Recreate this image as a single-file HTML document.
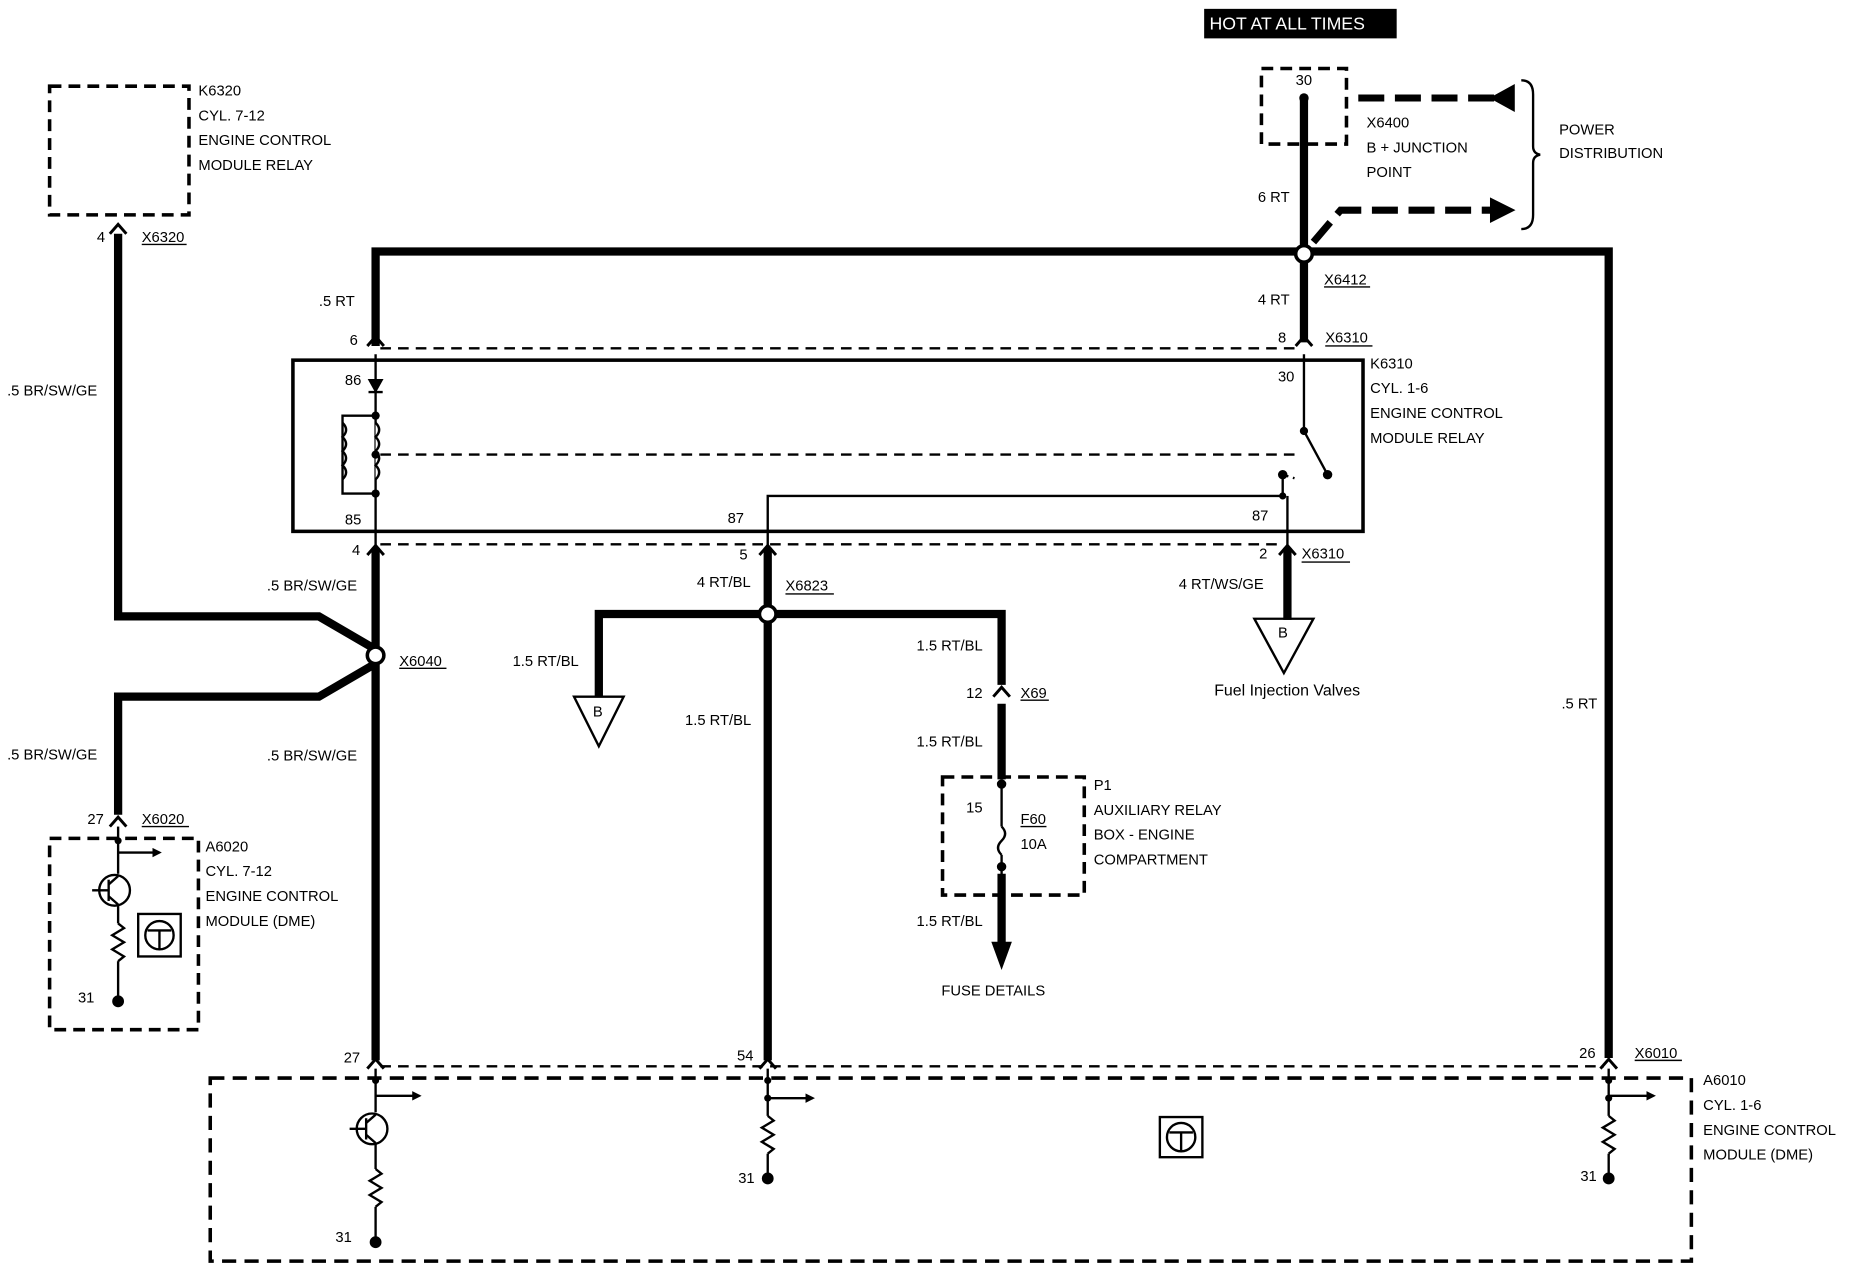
<!DOCTYPE html>
<html><head><meta charset="utf-8"><style>
html,body{margin:0;padding:0;background:#fff;}
svg{display:block}
text{font-family:"Liberation Sans",sans-serif;font-size:12.5px;fill:#000;}
</style></head><body>
<svg width="1852" height="1280" viewBox="0 0 1568 1084" preserveAspectRatio="none" xmlns="http://www.w3.org/2000/svg">
<defs>
<marker id="ah" markerWidth="8" markerHeight="8" refX="6" refY="4" orient="auto" markerUnits="userSpaceOnUse"><path d="M0,0 L8,4 L0,8 z"/></marker>
</defs>
<g fill="none" stroke="#000">
<rect x="1020" y="8" width="162" height="24" fill="#000"/>
<rect x="42" y="73" width="118" height="109" stroke-width="3" stroke-dasharray="10,6"/>
<rect x="1068" y="58" width="72" height="64" stroke-width="3" stroke-dasharray="10,6"/>
<g stroke-width="7">
<polyline points="100,198 100,522 270,522 318,550"/>
<polyline points="318,293 318,213 1362,213 1362,896"/>
<line x1="1104" y1="83" x2="1104" y2="290"/>
<line x1="318" y1="464" x2="318" y2="898"/>
<polyline points="318,562 270,590 100,590 100,690"/>
<line x1="650" y1="464" x2="650" y2="898"/>
<polyline points="507,590 507,520 848,520 848,580"/>
<line x1="848" y1="596" x2="848" y2="660"/>
<line x1="848" y1="740" x2="848" y2="800"/>
<line x1="1090" y1="464" x2="1090" y2="525"/>
</g>
<path d="M840,798 L856,798 L848,820 z" fill="#000"/>
<g stroke-width="6" stroke-dasharray="22,9">
<line x1="1150" y1="83" x2="1268" y2="83"/>
<polyline points="1112,205 1135,178 1262,178"/>
</g>
<path d="M1282,72 L1282,94 L1262,83 z" fill="#000"/>
<path d="M1262,168 L1262,188 L1282,178 z" fill="#000"/>
<path d="M1288,68 Q1298,68 1298,80 L1298,124 Q1298,130 1304,131 Q1298,132 1298,138 L1298,182 Q1298,194 1288,194" stroke-width="2"/>
<rect x="248" y="305" width="906" height="145" stroke-width="3"/>
<g stroke-width="2" stroke-dasharray="9,6">
<line x1="322" y1="295" x2="1100" y2="295"/>
<line x1="322" y1="461" x2="1086" y2="461"/>
<line x1="322" y1="385" x2="1100" y2="385"/>
<line x1="322" y1="903" x2="1358" y2="903"/>
</g>
<g stroke-width="2">
<line x1="318" y1="300" x2="318" y2="464"/>
<line x1="1104" y1="300" x2="1104" y2="365"/>
<line x1="1104" y1="365" x2="1124" y2="402"/>
<path d="M1086,402 L1096,405" stroke-dasharray="5,4"/>
<polyline points="1086,402 1086,420 650,420 650,464"/>
<line x1="1090" y1="420" x2="1090" y2="464"/>
<polyline points="318,352 290,352 290,418 318,418"/>
<path d="M290,358 q6,6 0,12 q6,6 0,12 q6,6 0,12 q6,6 0,12" />
<path d="M318,358 q6,6 0,12 q6,6 0,12 q6,6 0,12 q6,6 0,12" fill="#fff"/>
<polygon points="486,590 528,590 507,632" stroke-width="2"/>
<polygon points="1062,524 1112,524 1087,570" stroke-width="2"/>
</g>
<path d="M313,322 L323,322 L318,331 z M312,332 L324,332" fill="#000" stroke-width="2"/>
<g fill="#000" stroke="none">
<circle cx="318" cy="352" r="3.5"/><circle cx="318" cy="385" r="3.5"/><circle cx="318" cy="418" r="3.5"/>
<circle cx="1104" cy="365" r="3.5"/><circle cx="1124" cy="402" r="4"/><circle cx="1086" cy="402" r="4"/><circle cx="1086" cy="420" r="3"/>
<circle cx="1104" cy="83" r="4"/>
</g>
<g fill="#fff" stroke-width="3">
<circle cx="1104" cy="215" r="7"/><circle cx="318" cy="555" r="7"/><circle cx="650" cy="520" r="7"/>
</g>
<g stroke-width="2.5">
<path d="M93,198 L100,190 L107,198"/>
<path d="M311,293 L318,285 L325,293"/><path d="M1097,293 L1104,285 L1111,293"/>
<path d="M311,470 L318,462 L325,470"/><path d="M643,470 L650,462 L657,470"/><path d="M1083,470 L1090,462 L1097,470"/>
<path d="M841,590 L848,582 L855,590"/>
<path d="M93,700 L100,692 L107,700"/>
<path d="M311,905 L318,897 L325,905"/><path d="M643,905 L650,897 L657,905"/><path d="M1355,905 L1362,897 L1369,905"/>
</g>
<rect x="798" y="658" width="120" height="100" stroke-width="3" stroke-dasharray="10,6"/>
<g stroke-width="2">
<line x1="848" y1="660" x2="848" y2="700"/>
<path d="M848,700 q6,6 0,12 q-6,6 0,12"/>
<line x1="848" y1="724" x2="848" y2="742"/>
</g>
<circle cx="848" cy="664" r="3.5" fill="#000"/><circle cx="848" cy="734" r="3.5" fill="#000"/>
<rect x="42" y="710" width="126" height="162" stroke-width="3" stroke-dasharray="10,6"/>
<rect x="178" y="913" width="1254" height="155" stroke-width="3" stroke-dasharray="12,7"/>
<g stroke-width="2">
<line x1="100" y1="700" x2="100" y2="740"/>
<circle cx="97" cy="754" r="13"/><line x1="78" y1="754" x2="92" y2="754"/><line x1="92" y1="745" x2="92" y2="763"/>
<line x1="92" y1="749" x2="100" y2="742"/><line x1="92" y1="759" x2="100" y2="766"/>
<line x1="100" y1="766" x2="100" y2="782"/>
<path d="M100,782 l5,4 l-10,6 l10,6 l-10,6 l10,6 l-5,4"/>
<line x1="100" y1="814" x2="100" y2="848"/>
<polyline points="100,722 135,722" marker-end="url(#ah)"/>
<rect x="117" y="774" width="36" height="36"/><circle cx="135" cy="792" r="12"/><path d="M125,788 L145,788 M135,788 L135,804"/>
<line x1="318" y1="905" x2="318" y2="942"/>
<circle cx="315" cy="956" r="13"/><line x1="296" y1="956" x2="310" y2="956"/><line x1="310" y1="947" x2="310" y2="965"/>
<line x1="310" y1="951" x2="318" y2="944"/><line x1="310" y1="961" x2="318" y2="968"/>
<line x1="318" y1="968" x2="318" y2="990"/>
<path d="M318,990 l5,4 l-10,6 l10,6 l-10,6 l10,6 l-5,4"/>
<line x1="318" y1="1022" x2="318" y2="1052"/>
<polyline points="318,928 355,928" marker-end="url(#ah)"/>
<line x1="650" y1="905" x2="650" y2="945"/>
<path d="M650,945 l5,4 l-10,6 l10,6 l-10,6 l10,6 l-5,4"/>
<line x1="650" y1="977" x2="650" y2="998"/>
<polyline points="650,930 688,930" marker-end="url(#ah)"/>
<line x1="1362" y1="905" x2="1362" y2="945"/>
<path d="M1362,945 l5,4 l-10,6 l10,6 l-10,6 l10,6 l-5,4"/>
<line x1="1362" y1="977" x2="1362" y2="998"/>
<polyline points="1362,928 1400,928" marker-end="url(#ah)"/>
<rect x="982" y="946" width="36" height="34"/><circle cx="1000" cy="963" r="12"/><path d="M990,959 L1010,959 M1000,959 L1000,975"/>
</g>
<g fill="#000" stroke="none">
<circle cx="100" cy="712" r="3"/><circle cx="100" cy="848" r="5"/>
<circle cx="318" cy="915" r="3"/><circle cx="318" cy="1052" r="5"/>
<circle cx="650" cy="915" r="3"/><circle cx="650" cy="930" r="3"/><circle cx="650" cy="998" r="5"/>
<circle cx="1362" cy="915" r="3"/><circle cx="1362" cy="930" r="3"/><circle cx="1362" cy="998" r="5"/>
</g>
<g stroke-width="1.2">
<line x1="120" y1="207" x2="158" y2="207"/><line x1="1121" y1="243" x2="1160" y2="243"/>
<line x1="1122" y1="293" x2="1162" y2="293"/><line x1="1102" y1="476" x2="1143" y2="476"/>
<line x1="665" y1="503" x2="706" y2="503"/><line x1="338" y1="566" x2="378" y2="566"/>
<line x1="864" y1="593" x2="888" y2="593"/><line x1="120" y1="700" x2="160" y2="700"/>
<line x1="1384" y1="898" x2="1424" y2="898"/><line x1="864" y1="700" x2="886" y2="700"/>
</g>
</g>
<g>
<text x="1024" y="25" style="fill:#fff;font-size:15px">HOT AT ALL TIMES</text>
<text x="168" y="81">K6320</text><text x="168" y="102">CYL. 7-12</text><text x="168" y="123">ENGINE CONTROL</text><text x="168" y="144">MODULE RELAY</text>
<text x="82" y="205">4</text><text x="120" y="205">X6320</text>
<text x="1097" y="72">30</text>
<text x="1157" y="108">X6400</text><text x="1157" y="129">B + JUNCTION</text><text x="1157" y="150">POINT</text>
<text x="1320" y="114">POWER</text><text x="1320" y="134">DISTRIBUTION</text>
<text x="1065" y="171">6 RT</text>
<text x="1121" y="241">X6412</text><text x="1065" y="258">4 RT</text>
<text x="270" y="259">.5 RT</text>
<text x="296" y="292">6</text><text x="1082" y="290">8</text><text x="1122" y="290">X6310</text>
<text x="1160" y="312">K6310</text><text x="1160" y="333">CYL. 1-6</text><text x="1160" y="354">ENGINE CONTROL</text><text x="1160" y="375">MODULE RELAY</text>
<text x="292" y="326">86</text><text x="1082" y="323">30</text>
<text x="292" y="444">85</text><text x="616" y="443">87</text><text x="1060" y="441">87</text>
<text x="6" y="335">.5 BR/SW/GE</text>
<text x="298" y="470">4</text><text x="626" y="474">5</text><text x="1066" y="473">2</text><text x="1102" y="473">X6310</text>
<text x="226" y="500">.5 BR/SW/GE</text><text x="590" y="497">4 RT/BL</text><text x="665" y="500">X6823</text><text x="998" y="499">4 RT/WS/GE</text>
<text x="776" y="551">1.5 RT/BL</text>
<text x="338" y="564">X6040</text><text x="434" y="564">1.5 RT/BL</text>
<text x="818" y="591">12</text><text x="864" y="591">X69</text>
<text x="1028" y="589" style="font-size:13.5px">Fuel Injection Valves</text>
<text x="1322" y="600">.5 RT</text>
<text x="580" y="614">1.5 RT/BL</text>
<text x="776" y="632">1.5 RT/BL</text>
<text x="6" y="643">.5 BR/SW/GE</text><text x="226" y="644">.5 BR/SW/GE</text>
<text x="926" y="669">P1</text><text x="926" y="690">AUXILIARY RELAY</text><text x="926" y="711">BOX - ENGINE</text><text x="926" y="732">COMPARTMENT</text>
<text x="818" y="688">15</text><text x="864" y="698">F60</text><text x="864" y="719">10A</text>
<text x="74" y="698">27</text><text x="120" y="698">X6020</text>
<text x="174" y="721">A6020</text><text x="174" y="742">CYL. 7-12</text><text x="174" y="763">ENGINE CONTROL</text><text x="174" y="784">MODULE (DME)</text>
<text x="776" y="784">1.5 RT/BL</text>
<text x="797" y="843">FUSE DETAILS</text>
<text x="66" y="849">31</text>
<text x="291" y="900">27</text><text x="624" y="898">54</text><text x="1337" y="896">26</text><text x="1384" y="896">X6010</text>
<text x="1442" y="919">A6010</text><text x="1442" y="940">CYL. 1-6</text><text x="1442" y="961">ENGINE CONTROL</text><text x="1442" y="982">MODULE (DME)</text>
<text x="625" y="1002">31</text><text x="1338" y="1000">31</text><text x="284" y="1052">31</text>
<text x="502" y="607">B</text><text x="1082" y="540">B</text>
</g>
</svg>
</body></html>
